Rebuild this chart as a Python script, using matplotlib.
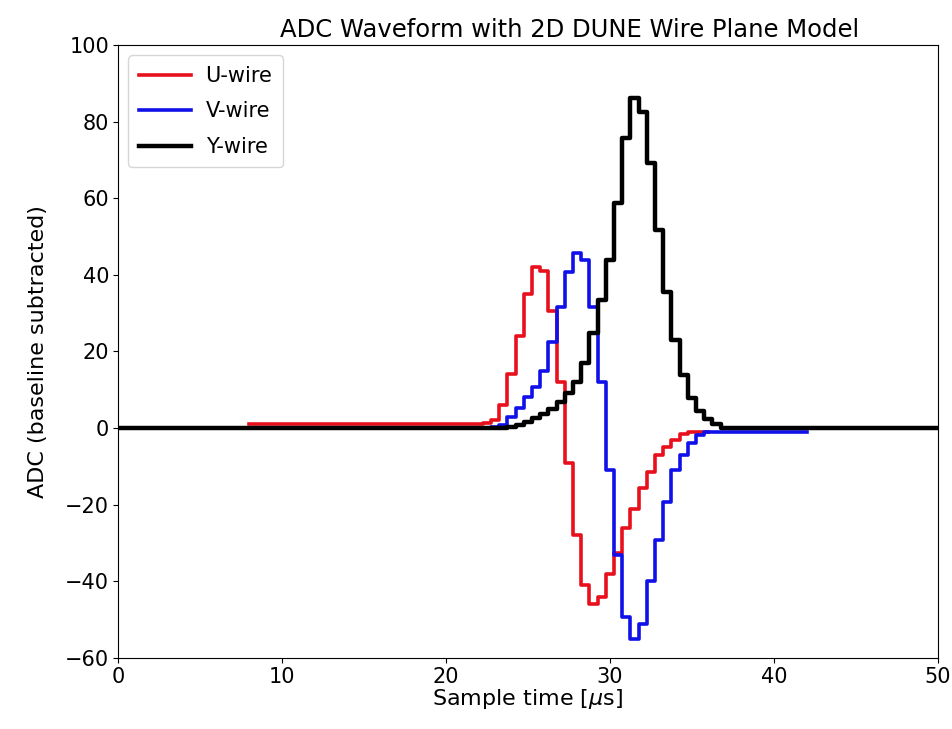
import numpy as np
import matplotlib
matplotlib.use("Agg")
import matplotlib.pyplot as plt

# sample times are 0.5 us apart; each wire trace has its own start time
DT = 0.5

u_start = 8.0
u_adc = ([1.0] * 29 +
         [1.3, 2.2, 6.0, 14.0, 24.0, 35.0, 42.0, 41.0, 30.5, 12.0,
          -9.0, -28.0, -41.0, -46.0, -44.0, -38.0, -32.5, -26.0, -21.0,
          -15.5, -11.5, -7.0, -5.0, -3.0, -1.5, -1.0, -1.0, -1.0])

v_start = 14.0
v_adc = ([0.0] * 18 +
         [0.3, 0.8, 2.8, 5.2, 8.0, 10.8, 15.0, 22.5, 31.6, 40.8, 45.8,
          44.0, 31.7, 12.0, -11.0, -33.0, -49.3, -55.0, -51.0, -40.0,
          -29.2, -19.3, -11.0, -7.0, -4.0, -1.8] +
         [-1.0] * 13)

y_start = 0.0
y_adc = ([0.0] * 48 +
         [0.3, 0.8, 1.6, 2.6, 3.6, 5.0, 6.7, 9.1, 12.0, 17.0, 24.8, 33.4,
          43.9, 58.7, 75.7, 86.2, 82.5, 69.2, 51.7, 35.5, 23.0, 13.8, 7.8,
          4.5, 2.5, 1.0] +
         [0.0] * 27)

plt.rcParams["font.size"] = 15

fig = plt.figure(figsize=(9.52, 7.29), dpi=100)
ax = fig.add_axes([0.124, 0.0974, 0.861, 0.8409])

for start, adc, color, lw, label in [
    (u_start, u_adc, "#e8101c", 2.6, "U-wire"),
    (v_start, v_adc, "#1010e8", 2.6, "V-wire"),
    (y_start, y_adc, "black", 3.2, "Y-wire"),
]:
    t = start + DT * np.arange(len(adc))
    ax.plot(t, adc, drawstyle="steps-mid", color=color, lw=lw, label=label)

ax.set_xlim(0, 50)
ax.set_ylim(-60, 100)
ax.set_xticks(np.arange(0, 51, 10))
ax.set_yticks(np.arange(-60, 101, 20))
ax.tick_params(labelsize=15, pad=3)
ax.set_xlabel(r"Sample time [$\mu$s]", fontsize=16, labelpad=0)
ax.set_ylabel("ADC (baseline subtracted)", fontsize=16, labelpad=12)
ax.set_title("ADC Waveform with 2D DUNE Wire Plane Model", fontsize=17.5,
             x=0.551)
ax.legend(loc="upper left", fontsize=15, handlelength=2.5,
          handletextpad=0.7, labelspacing=0.75, borderpad=0.5)

fig.savefig("out.png", dpi=100)
